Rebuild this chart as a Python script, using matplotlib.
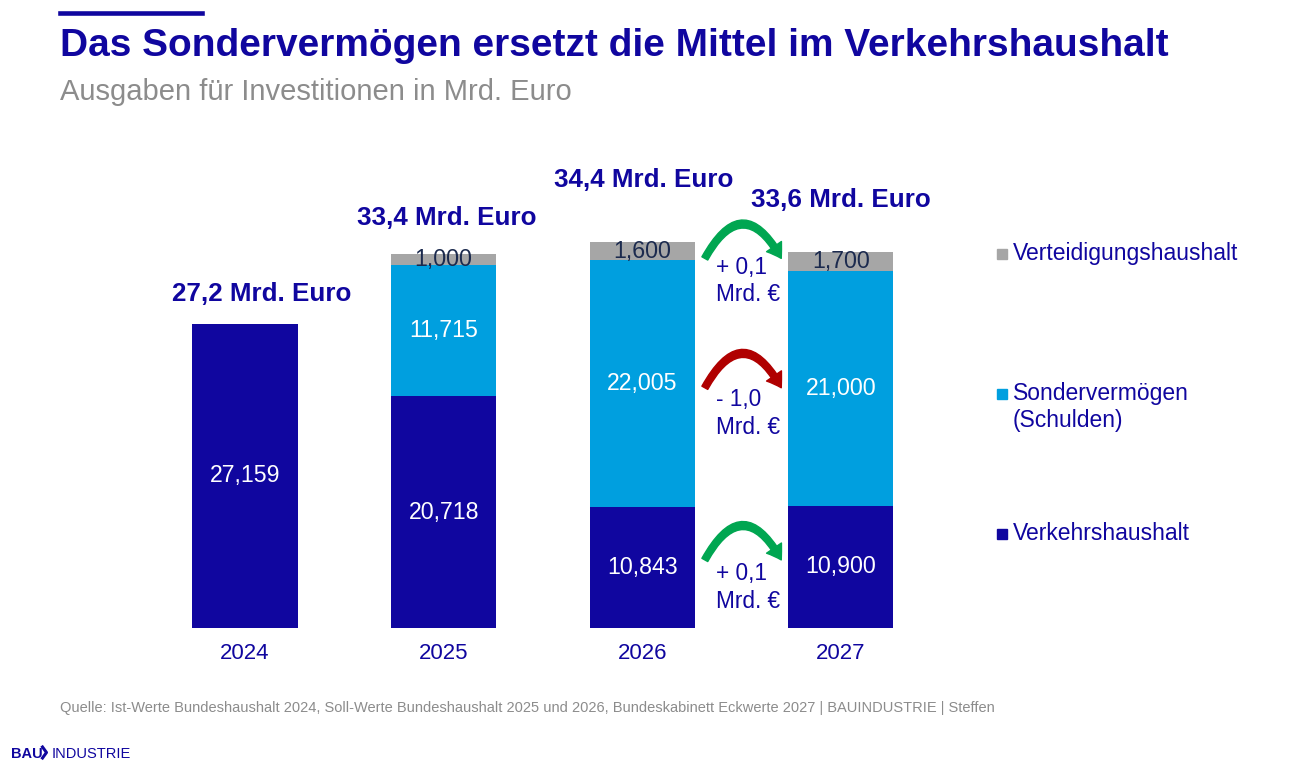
import matplotlib
matplotlib.use('Agg')
import matplotlib.pyplot as plt
from matplotlib.patches import Rectangle
from matplotlib.lines import Line2D

plt.rcParams['font.family'] = ['Liberation Sans', 'DejaVu Sans']

# data (Mio. Euro)
years = ['2024', '2025', '2026', '2027']
verkehr = [27159, 20718, 10843, 10900]
sonder = [0, 11715, 22005, 21000]
verteidigung = [0, 1000, 1600, 1700]
legend_labels = ['Verteidigungshaushalt', 'Sondervermögen\n(Schulden)', 'Verkehrshaushalt']

BLUE = '#10069F'
LIGHT = '#009FDF'
GREY = '#A6A6A6'
NAVY = '#1b2a4e'

fig = plt.figure(figsize=(13.12, 7.82), dpi=100)
ax = fig.add_axes([0.096, 0.1969, 0.6357, 0.5729])

x = list(range(len(years)))
w = 0.53
bottom2 = verkehr
bottom3 = [a + b for a, b in zip(verkehr, sonder)]
totals = [a + b + c for a, b, c in zip(verkehr, sonder, verteidigung)]

ax.bar(x, verkehr, w, color=BLUE)
ax.bar(x, sonder, w, bottom=bottom2, color=LIGHT)
ax.bar(x, verteidigung, w, bottom=bottom3, color=GREY)

# labels inside segments
for i in x:
    ax.text(i, verkehr[i] / 2, f'{verkehr[i]:,}', ha='center', va='center',
            color='white', fontsize=16.7)
    if sonder[i]:
        ax.text(i, bottom2[i] + sonder[i] / 2, f'{sonder[i]:,}', ha='center',
                va='center', color='white', fontsize=16.7)
    if verteidigung[i]:
        ax.text(i, bottom3[i] + verteidigung[i] / 2, f'{verteidigung[i]:,}',
                ha='center', va='center', color=NAVY, fontsize=16.7)

# totals above bars
tot_offsets = [(12, 21.6), (2, 25.9), (1, 44.6), (0, 37.4)]
for i in x:
    lbl = f'{totals[i] / 1000:.1f} Mrd. Euro'.replace('.', ',', 1)
    ax.annotate(lbl, xy=(i, totals[i]), xytext=tot_offsets[i],
                textcoords='offset points', ha='center', va='center',
                fontsize=18.7, fontweight='bold', color=BLUE, annotation_clip=False)

# change arrows 2026 -> 2027
changes = [
    (verteidigung[3] - verteidigung[2], 33000, 30970, '#00A651'),
    (sonder[3] - sonder[2], 21450, 19170, '#B00000'),
    (verkehr[3] - verkehr[2], 6080, 3620, '#00A651'),
]
for diff, ya, yt, col in changes:
    ax.annotate('', xy=(2.70, ya), xytext=(2.315, ya),
                arrowprops=dict(arrowstyle='simple,head_length=0.5,head_width=0.65,tail_width=0.24',
                                connectionstyle='arc3,rad=-0.9', color=col,
                                shrinkA=0, shrinkB=0, mutation_scale=20),
                annotation_clip=False)
    sign = '+' if diff >= 0 else '-'
    txt = f'{sign} {abs(diff) / 1000:.1f}'.replace('.', ',') + '\nMrd. €'
    ax.text(2.37, yt, txt, ha='left', va='center', fontsize=16.3, color=BLUE,
            linespacing=1.25)

ax.set_xlim(-0.6, 3.6)
ax.set_ylim(0, 40000)
ax.set_xticks(x)
ax.set_xticklabels(years, fontsize=16, color=BLUE)
ax.tick_params(axis='x', length=0, pad=11)
ax.set_yticks([])
for s in ax.spines.values():
    s.set_visible(False)

# legend
leg_colors = [GREY, LIGHT, BLUE]
leg_y = [254, 394, 534]
for lab, c, py in zip(legend_labels, leg_colors, leg_y):
    fy = 1 - py / 782
    fig.add_artist(Rectangle((997 / 1312, fy - 5 / 782), 10 / 1312, 10 / 782,
                             transform=fig.transFigure, color=c))
    fig.text(1013 / 1312, fy + 12 / 782, lab, ha='left', va='top', fontsize=16.5,
             color=BLUE, linespacing=1.2)

# header
fig.add_artist(Line2D([60 / 1312, 202 / 1312], [1 - 13.3 / 782] * 2, color=BLUE, lw=3.3,
                      transform=fig.transFigure))
fig.text(60 / 1312, 1 - 56 / 782, 'Das Sondervermögen ersetzt die Mittel im Verkehrshaushalt',
         fontsize=28.0, fontweight='bold', color=BLUE, va='baseline')
fig.text(60 / 1312, 1 - 100 / 782, 'Ausgaben für Investitionen in Mrd. Euro',
         fontsize=21.0, color='#8c8c8c', va='baseline')

fig.text(60 / 1312, 1 - 712 / 782,
         'Quelle: Ist-Werte Bundeshaushalt 2024, Soll-Werte Bundeshaushalt 2025 und 2026, '
         'Bundeskabinett Eckwerte 2027 | BAUINDUSTRIE | Steffen',
         fontsize=10.55, color='#8c8c8c', va='baseline')

# logo
fig.text(11 / 1312, 1 - 758 / 782, 'BAU', fontsize=10.5, fontweight='bold', color=BLUE,
         va='baseline')
fig.add_artist(Line2D([42.5 / 1312, 46.5 / 1312, 42.5 / 1312],
                      [1 - 747 / 782, 1 - 752.5 / 782, 1 - 758 / 782],
                      color=BLUE, lw=2.2, transform=fig.transFigure))
fig.text(52 / 1312, 1 - 758 / 782, 'INDUSTRIE', fontsize=10.5, color=BLUE, va='baseline')

fig.savefig('out.png', dpi=100)
